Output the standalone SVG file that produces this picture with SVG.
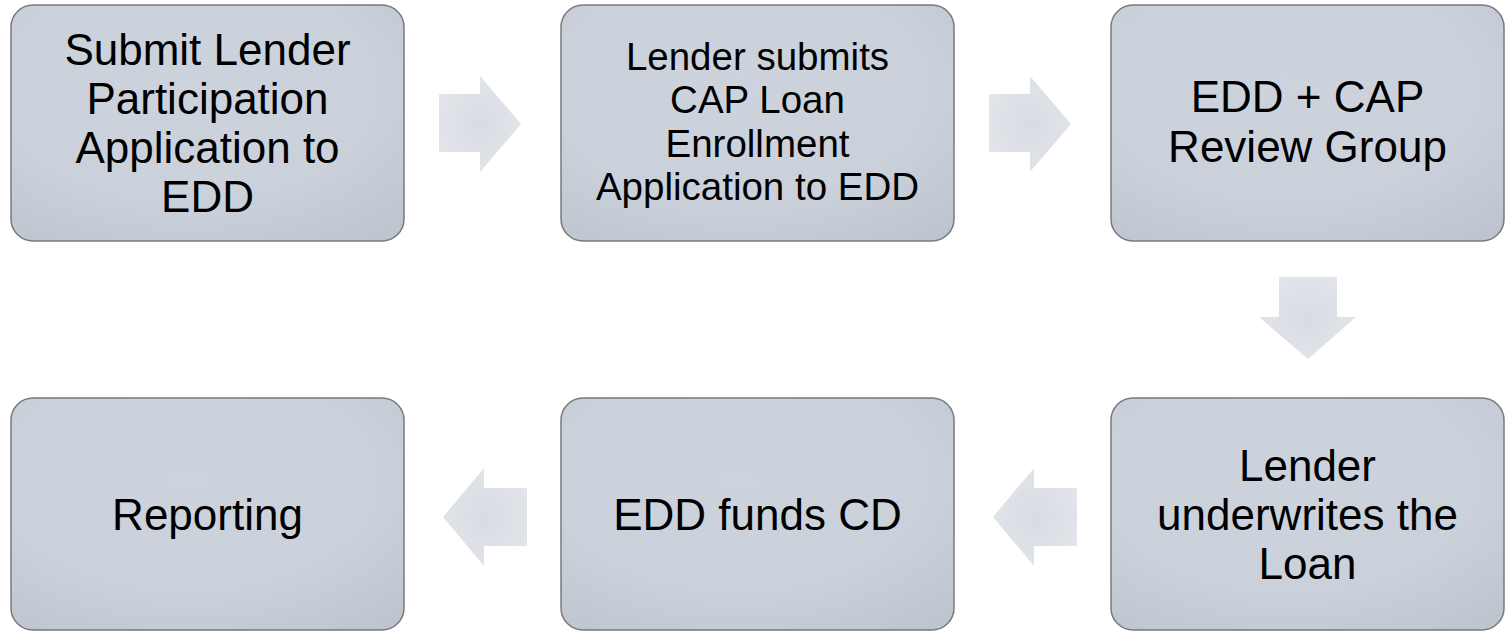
<svg xmlns="http://www.w3.org/2000/svg" width="1509" height="632" viewBox="0 0 1509 632">
  <style>
    .box { fill: url(#boxGrad); stroke: #7a7a7a; stroke-width: 1.5; }
    .arrow { fill: url(#arrGrad); stroke: none; }
    .lbl { font-family: "Liberation Sans", Arial, sans-serif; font-size: 44px; fill: #000; text-anchor: middle; }
    .sm { font-size: 38.5px; }
  </style>
  <defs>
    <radialGradient id="boxGrad" cx="0.45" cy="0.35" r="0.8">
      <stop offset="0" stop-color="#cdd3dc"/>
      <stop offset="0.6" stop-color="#cbd1da"/>
      <stop offset="1" stop-color="#bfc5ce"/>
    </radialGradient>
    <radialGradient id="arrGrad" cx="0.5" cy="0.5" r="0.6">
      <stop offset="0" stop-color="#d8dbe1"/>
      <stop offset="1" stop-color="#e2e5ea"/>
    </radialGradient>
  </defs>

  <g id="connectors">
    <path class="arrow" d="M439,94 H480 V76 L521,124 L480,172 V152 H439 Z"/>
    <path class="arrow" d="M989,94 H1030 V76 L1071,124 L1030,172 V152 H989 Z"/>
    <path class="arrow" d="M1279,277 H1337 V317 H1356 L1308,359 L1259,317 H1279 Z"/>
    <path class="arrow" d="M1077,488 H1034 V468 L993,517 L1034,566 V546 H1077 Z"/>
    <path class="arrow" d="M527,488 H484 V468 L443,517 L484,566 V546 H527 Z"/>
  </g>

  <g id="node1">
    <rect class="box" x="11" y="5" width="393" height="236" rx="22"/>
    <text class="lbl" x="207.5"><tspan x="207.5" y="65">Submit Lender</tspan><tspan x="207.5" y="114">Participation</tspan><tspan x="207.5" y="163">Application to</tspan><tspan x="207.5" y="212">EDD</tspan></text>
  </g>

  <g id="node2">
    <rect class="box" x="561" y="5" width="393" height="236" rx="22"/>
    <text class="lbl sm" x="757.5"><tspan x="757.5" y="70">Lender submits</tspan><tspan x="757.5" y="113">CAP Loan</tspan><tspan x="757.5" y="157">Enrollment</tspan><tspan x="757.5" y="200">Application to EDD</tspan></text>
  </g>

  <g id="node3">
    <rect class="box" x="1111" y="5" width="393" height="236" rx="22"/>
    <text class="lbl" x="1307.5"><tspan x="1307.5" y="112">EDD + CAP</tspan><tspan x="1307.5" y="162">Review Group</tspan></text>
  </g>

  <g id="node4">
    <rect class="box" x="1111" y="398" width="393" height="232" rx="22"/>
    <text class="lbl" x="1307.5"><tspan x="1307.5" y="481">Lender</tspan><tspan x="1307.5" y="530">underwrites the</tspan><tspan x="1307.5" y="579">Loan</tspan></text>
  </g>

  <g id="node5">
    <rect class="box" x="561" y="398" width="393" height="232" rx="22"/>
    <text class="lbl" x="757.5" y="530">EDD funds CD</text>
  </g>

  <g id="node6">
    <rect class="box" x="11" y="398" width="393" height="232" rx="22"/>
    <text class="lbl" x="207.5" y="530">Reporting</text>
  </g>
</svg>
